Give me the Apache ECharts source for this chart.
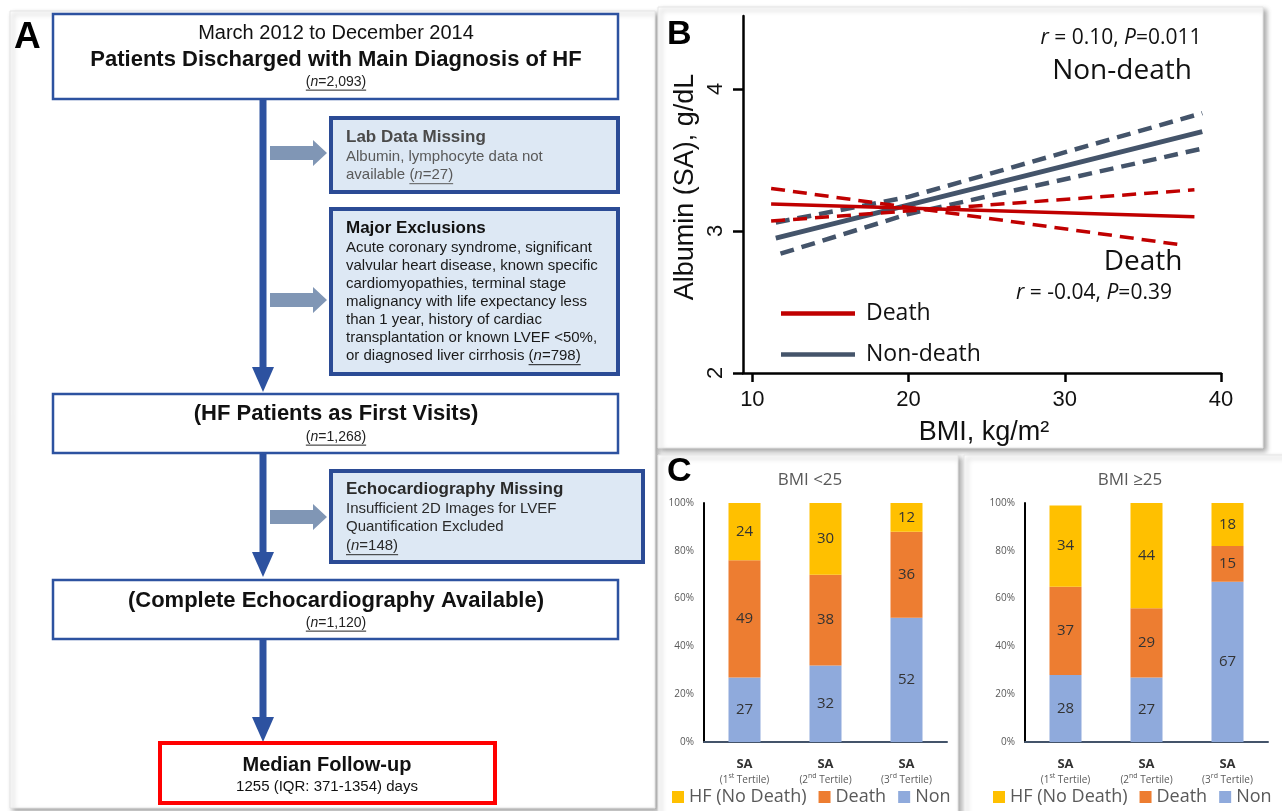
<!DOCTYPE html>
<html>
<head>
<meta charset="utf-8">
<script src="https://cdn.jsdelivr.net/npm/echarts@6.0.0/dist/echarts.min.js"></script>
<style>
  html, body { margin: 0; padding: 0; background: #fff; }
  #main { width: 1282px; height: 811px; }
</style>
</head>
<body>
<div id="main"></div>
<script>
const F = "'Liberation Sans', Arial, sans-serif";
const G = "'Open Sans', 'Noto Sans', sans-serif";

// ---- panel A: flowchart text
const topLines = ['March 2012 to December 2014', 'Patients Discharged with Main Diagnosis of HF'];
const nTotal = '2,093';
const labTitle = 'Lab Data Missing';
const labLines = ['Albumin, lymphocyte data not', 'available '];
const nLab = '27';
const exclTitle = 'Major Exclusions';
const exclLines = ['Acute coronary syndrome, significant', 'valvular heart disease, known specific',
  'cardiomyopathies, terminal stage', 'malignancy with life expectancy less',
  'than 1 year, history of cardiac', 'transplantation or known LVEF <50%,',
  'or diagnosed liver cirrhosis '];
const nExcl = '798';
const firstVisit = '(HF Patients as First Visits)';
const nFirst = '1,268';
const echoTitle = 'Echocardiography Missing';
const echoLines = ['Insufficient 2D Images for LVEF', 'Quantification Excluded'];
const nEcho = '148';
const complete = '(Complete Echocardiography Available)';
const nComplete = '1,120';
const followTitle = 'Median Follow-up';
const followText = '1255 (IQR: 371-1354) days';

// ---- panel B: regression lines, [BMI, albumin]
const deathFit = [[11.2, 3.19], [38.3, 3.10]];
const deathCiA = [[11.2, 3.30], [37.6, 2.90]];
const deathCiB = [[11.2, 3.07], [38.3, 3.29]];
const nonDeathFit = [[11.5, 2.95], [38.8, 3.70]];
const nonDeathCiHi = [[11.5, 3.06], [20, 3.24], [38.8, 3.83]];
const nonDeathCiLo = [[11.8, 2.84], [20, 3.12], [38.8, 3.58]];
const bmiTicks = [10, 20, 30, 40];
const albTicks = [2, 3, 4];

// ---- panel C: % by SA tertile
const tertiles = ['1st', '2nd', '3rd'];
const lowHf = [24, 30, 12];
const lowDeath = [49, 38, 36];
const lowNon = [27, 32, 52];
const highHf = [34, 44, 18];
const highDeath = [37, 29, 15];
const highNon = [28, 27, 67];

const BLUE = '#2d52a0';
const RED = '#c00000';
const SLATE = '#44546a';
const C_HF = '#ffc000', C_DEATH = '#ed7d31', C_NON = '#8faadc';

const ctx = document.createElement('canvas').getContext('2d');
function measure(s, size, style, weight) {
  ctx.font = (style || 'normal') + ' ' + (weight || 'normal') + ' ' + size + 'px ' + F;
  return ctx.measureText(s).width;
}

const g = [];
function frame(x, y, w, h) {
  g.push({ type: 'rect', z: -10, shape: { x, y, width: w, height: h },
    style: { fill: '#fff', stroke: '#e4e4e4', lineWidth: 1, shadowBlur: 5, shadowColor: 'rgba(0,0,0,0.35)', shadowOffsetX: 3, shadowOffsetY: 3 } });
}
function box(x, y, w, h, stroke, lw, fill) {
  g.push({ type: 'rect', z: 5, shape: { x, y, width: w, height: h }, style: { fill: fill || '#fff', stroke, lineWidth: lw } });
}
function text(x, y, s, size, o) {
  o = o || {};
  g.push({ type: 'text', z: 10, x, y, rotation: o.rot || 0,
    style: { text: s, fontSize: size, fontFamily: o.fam || F, fontWeight: o.bold ? 'bold' : 'normal',
      fill: o.color || '#111', align: o.align || 'left', verticalAlign: 'middle', rich: o.rich } });
}
function nCount(x, y, val, size, color, align) {
  const w = measure('(', size) + measure('n', size, 'italic') + measure('=' + val + ')', size);
  const x0 = align === 'center' ? x - w / 2 : x;
  text(x0, y, '({i|n}=' + val + ')', size, { color, rich: { i: { fontStyle: 'italic', fontSize: size, fontFamily: F, fill: color } } });
  g.push({ type: 'line', z: 10, shape: { x1: x0, y1: y + size * 0.58, x2: x0 + w, y2: y + size * 0.58 }, style: { stroke: color, lineWidth: 1 } });
}
function downArrow(x, y1, y2) {
  g.push({ type: 'rect', z: 4, shape: { x: x - 3.5, y: y1, width: 7, height: y2 - 24 - y1 }, style: { fill: BLUE } });
  g.push({ type: 'polygon', z: 4, shape: { points: [[x - 11, y2 - 25], [x + 11, y2 - 25], [x, y2]] }, style: { fill: BLUE } });
}
function sideArrow(y) {
  g.push({ type: 'polygon', z: 4, shape: { points: [[270, y - 7], [313, y - 7], [313, y - 13], [327, y], [313, y + 13], [313, y + 7], [270, y + 7]] },
    style: { fill: '#8096b5' } });
}

// panel frames
frame(10, 11, 645, 797);
frame(658, 7, 605, 441);
frame(658, 455, 300, 362);
frame(964, 455, 322, 362);

// ---- panel A
text(14, 38, 'A', 37, { bold: true, color: '#000' });
box(53, 14, 565, 85, BLUE, 2.5);
text(336, 33, topLines[0], 20, { align: 'center' });
text(336, 60, topLines[1], 22, { align: 'center', bold: true });
nCount(336, 82, nTotal, 14, '#222', 'center');

downArrow(263, 99, 392);
sideArrow(153);
box(331, 118, 287, 74, '#2b4b95', 4, '#dde8f4');
text(346, 137, labTitle, 17, { bold: true, color: '#4a4a4a' });
text(346, 157, labLines[0], 15, { color: '#595959' });
text(346, 175, labLines[1], 15, { color: '#595959' });
nCount(346 + measure(labLines[1], 15), 175, nLab, 15, '#595959');

sideArrow(300);
box(331, 209, 287, 165, '#2b4b95', 4, '#dde8f4');
text(346, 228, exclTitle, 17, { bold: true, color: '#111' });
exclLines.forEach((s, i) => text(346, 248 + 18 * i, s, 15, { color: '#1a1a1a' }));
nCount(346 + measure(exclLines[6], 15), 248 + 18 * 6, nExcl, 15, '#1a1a1a');

box(53, 394, 565, 59, BLUE, 2.5);
text(336, 414, firstVisit, 22, { align: 'center', bold: true });
nCount(336, 437, nFirst, 14, '#222', 'center');

downArrow(263, 453, 577);
sideArrow(517);
box(331, 471, 312, 91, '#2b4b95', 4, '#dde8f4');
text(346, 489, echoTitle, 17, { bold: true, color: '#2a2a2a' });
echoLines.forEach((s, i) => text(346, 509 + 18 * i, s, 15, { color: '#2a2a2a' }));
nCount(346, 546, nEcho, 15, '#2a2a2a');

box(53, 580, 565, 59, BLUE, 2.5);
text(336, 601, complete, 22, { align: 'center', bold: true });
nCount(336, 623, nComplete, 14, '#222', 'center');

downArrow(263, 639, 742);
box(160, 743, 335, 60, '#ff0000', 4);
text(327, 765, followTitle, 20, { align: 'center', bold: true });
text(327, 787, followText, 15, { align: 'center' });

// ---- panel B text
text(667, 35, 'B', 34, { bold: true, color: '#000' });
const it = { i: { fontStyle: 'italic', fontSize: 21, fontFamily: G, fill: '#111' } };
text(1121, 38, '{i|r} = 0.10, {i|P}=0.011', 21, { align: 'center', fam: G, rich: it });
text(1122, 71, 'Non-death', 28, { align: 'center', fam: G });
text(1143, 262, 'Death', 28, { align: 'center', fam: G });
text(1094, 293, '{i|r} = -0.04, {i|P}=0.39', 21, { align: 'center', fam: G, rich: it });
text(686, 187, 'Albumin (SA), g/dL', 27, { align: 'center', rot: Math.PI / 2 });
text(984, 433, 'BMI, kg/m\u00b2', 27, { align: 'center' });

// ---- panel C text
text(667, 472, 'C', 34, { bold: true, color: '#000' });
text(810, 480, 'BMI <25', 17, { align: 'center', fam: G, color: '#595959' });
text(1130, 480, 'BMI \u226525', 17, { align: 'center', fam: G, color: '#595959' });

function lineSeries(name, data, color, width, dash) {
  return { name, type: 'line', xAxisIndex: 0, yAxisIndex: 0, data, symbol: 'none', silent: true,
    lineStyle: { color, width, type: dash ? [14, 8] : 'solid' }, itemStyle: { color } };
}
function barSeries(name, data, color, idx, stack) {
  return { name, type: 'bar', xAxisIndex: idx, yAxisIndex: idx, stack, data, barWidth: 32,
    itemStyle: { color },
    label: { show: true, position: 'inside', fontSize: 15, fontFamily: G, color: '#333' } };
}

function catAxis(idx) {
  return { type: 'category', gridIndex: idx, data: tertiles, offset: 6,
    axisLine: { lineStyle: { color: SLATE, width: 2 } },
    axisTick: { alignWithLabel: true, length: 6, lineStyle: { color: '#222', width: 2 } },
    axisLabel: { margin: 8, interval: 0,
      formatter: v => '{b|SA}\n{t|(' + v.slice(0, 1) + '}{s|' + v.slice(1) + '}{t| Tertile)}',
      rich: {
        b: { fontSize: 13, fontWeight: 'bold', fontFamily: G, color: '#333', lineHeight: 16 },
        t: { fontSize: 10, fontFamily: G, color: '#595959', lineHeight: 16 },
        s: { fontSize: 7, fontFamily: G, color: '#595959', lineHeight: 12, verticalAlign: 'top' }
      } } };
}
function pctAxis(idx) {
  return { type: 'value', gridIndex: idx, min: 0, max: 100, interval: 20,
    axisLine: { show: true, lineStyle: { color: '#000', width: 2 } },
    axisTick: { show: false }, splitLine: { show: false },
    axisLabel: { formatter: '{value}%', fontSize: 10, fontFamily: G, color: '#595959', margin: 10 } };
}
function cLegend(left) {
  return { left, top: 788, padding: 0, itemWidth: 12, itemHeight: 12, itemGap: 12, icon: 'rect',
    data: ['HF (No Death)', 'Death', 'Non'],
    textStyle: { fontSize: 18, fontFamily: G, color: '#595959' } };
}

const option = {
  animation: false,
  backgroundColor: '#fff',
  graphic: { elements: g },
  grid: [
    { left: 743, top: 16, width: 478, height: 357 },
    { left: 704, top: 503, width: 243, height: 239 },
    { left: 1025, top: 503, width: 243, height: 239 }
  ],
  legend: [
    { left: 781, top: 302, padding: 0, orient: 'vertical', icon: 'rect', itemWidth: 74, itemHeight: 4.5, itemGap: 18,
      data: ['B-Death', 'B-Non-death'], formatter: n => n.slice(2),
      textStyle: { fontSize: 23, fontFamily: G, color: '#111', padding: [0, 0, 0, 6] } },
    cLegend(672),
    cLegend(993)
  ],
  xAxis: [
    { type: 'value', gridIndex: 0, min: 9.4, max: 40,
      axisLine: { onZero: false, lineStyle: { color: '#000', width: 2.5 } },
      axisTick: { show: true, customValues: bmiTicks, length: 9, lineStyle: { color: '#000', width: 2.5 } },
      axisLabel: { customValues: bmiTicks, fontSize: 22, fontFamily: F, color: '#111', margin: 16 },
      splitLine: { show: false } },
    catAxis(1),
    catAxis(2)
  ],
  yAxis: [
    { type: 'value', gridIndex: 0, min: 2, max: 4.514,
      axisLine: { show: true, onZero: false, lineStyle: { color: '#000', width: 2.5 } },
      axisTick: { show: true, customValues: albTicks, length: 10, lineStyle: { color: '#000', width: 2.5 } },
      axisLabel: { customValues: albTicks, fontSize: 22, fontFamily: F, color: '#111', margin: 16, rotate: 90 },
      splitLine: { show: false } },
    pctAxis(1),
    pctAxis(2)
  ],
  series: [
    lineSeries('B-Non-death CI hi', nonDeathCiHi, SLATE, 4.5, true),
    lineSeries('B-Non-death CI lo', nonDeathCiLo, SLATE, 4.5, true),
    lineSeries('B-Non-death', nonDeathFit, SLATE, 5),
    lineSeries('B-Death CI a', deathCiA, RED, 3.5, true),
    lineSeries('B-Death CI b', deathCiB, RED, 3.5, true),
    lineSeries('B-Death', deathFit, RED, 3.5),
    barSeries('Non', lowNon, C_NON, 1, 'low'),
    barSeries('Death', lowDeath, C_DEATH, 1, 'low'),
    barSeries('HF (No Death)', lowHf, C_HF, 1, 'low'),
    barSeries('Non', highNon, C_NON, 2, 'high'),
    barSeries('Death', highDeath, C_DEATH, 2, 'high'),
    barSeries('HF (No Death)', highHf, C_HF, 2, 'high')
  ]
};

const chart = echarts.init(document.getElementById('main'));
chart.setOption(option);
</script>
</body>
</html>
